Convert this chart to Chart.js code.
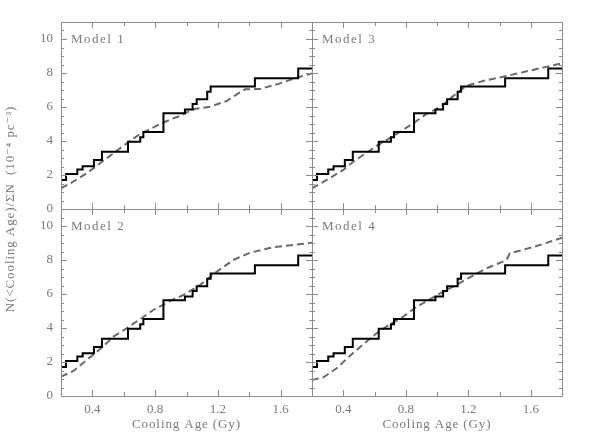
<!DOCTYPE html>
<html>
<head>
<meta charset="utf-8">
<script src="https://cdn.jsdelivr.net/npm/chart.js@4.4.0/dist/chart.umd.min.js"></script>
<style>
  html, body { margin: 0; padding: 0; background: #fff; }
  #wrap { position: relative; width: 598px; height: 447px; }
  .panel { position: absolute; left: 0; top: 0; width: 598px; height: 447px; }
</style>
</head>
<body>
<div id="wrap">
  <div class="panel"><canvas id="p1"></canvas></div>
  <div class="panel"><canvas id="p2"></canvas></div>
  <div class="panel"><canvas id="p3"></canvas></div>
  <div class="panel"><canvas id="p4"></canvas></div>
</div>
<script>
// observed cumulative distribution (same in every panel)
var ageObs = [0.2, 0.232, 0.304, 0.338, 0.41, 0.461, 0.627, 0.705, 0.725, 0.853, 0.99, 1.039, 1.065, 1.132, 1.154, 1.436, 1.712, 1.8];
var cumObs = [1.71, 2.06, 2.33, 2.51, 2.88, 3.37, 3.96, 4.22, 4.53, 5.63, 5.86, 6.18, 6.45, 6.9, 7.2, 7.69, 8.27, 8.27];

// model curves
var ageModel1 = [0.2, 0.278, 0.364, 0.449, 0.533, 0.619, 0.703, 0.778, 0.831, 0.916, 0.958, 1.011, 1.05, 1.15, 1.256, 1.33, 1.373, 1.468, 1.596, 1.712, 1.8];
var cumModel1 = [1.22, 1.61, 2.1, 2.69, 3.27, 3.86, 4.41, 4.75, 5.0, 5.33, 5.47, 5.73, 5.88, 6.02, 6.35, 6.8, 7.04, 7.06, 7.39, 7.75, 7.98];

var ageModel2 = [0.2, 0.279, 0.364, 0.449, 0.534, 0.618, 0.703, 0.788, 0.895, 0.98, 1.086, 1.192, 1.298, 1.405, 1.553, 1.68, 1.8];
var cumModel2 = [1.14, 1.47, 2.12, 2.76, 3.49, 3.98, 4.51, 5.06, 5.59, 5.94, 6.53, 7.31, 8.0, 8.43, 8.75, 8.88, 9.02];

var ageModel3 = [0.2, 0.294, 0.4, 0.464, 0.613, 0.72, 0.848, 0.933, 1.018, 1.104, 1.189, 1.295, 1.444, 1.594, 1.722, 1.8];
var cumModel3 = [1.22, 1.71, 2.3, 2.78, 3.71, 4.29, 5.04, 5.59, 5.98, 6.65, 7.25, 7.53, 7.82, 8.14, 8.41, 8.57];

var ageModel4 = [0.2, 0.273, 0.358, 0.443, 0.528, 0.613, 0.699, 0.784, 0.869, 0.954, 1.04, 1.125, 1.178, 1.317, 1.445, 1.466, 1.55, 1.637, 1.8];
var cumModel4 = [0.94, 1.1, 1.63, 2.37, 3.04, 3.69, 4.22, 4.67, 5.24, 5.69, 6.14, 6.53, 6.82, 7.51, 8.0, 8.39, 8.6, 8.82, 9.31];

// axes
var ageTicks = [0.2, 0.4, 0.6, 0.8, 1.0, 1.2, 1.4, 1.6, 1.8];
var ageLabels = [0.4, 0.8, 1.2, 1.6];
var cumTicks = [0, 0.5, 1, 1.5, 2, 2.5, 3, 3.5, 4, 4.5, 5, 5.5, 6, 6.5, 7, 7.5, 8, 8.5, 9, 9.5, 10, 10.5, 11];
var cumLabels = [0, 2, 4, 6, 8, 10];

var INK = '#7a7a7a';
var FONT = '"Liberation Serif", "DejaVu Serif", serif';

function toPoints(xs, ys) {
    var pts = [];
    for (var i = 0; i < xs.length; i++) {
        pts.push({ x: xs[i], y: ys[i] });
    }
    return pts;
}

function inList(list, v) {
    for (var i = 0; i < list.length; i++) {
        if (Math.abs(list[i] - v) < 1e-6) return true;
    }
    return false;
}

// frame, inward ticks and panel texts
var framePlugin = {
    id: 'frame',
    afterDraw: function (chart, args, opts) {
        var ctx = chart.ctx;
        var a = chart.chartArea;
        var xs = chart.scales.x, ys = chart.scales.y;
        ctx.save();
        ctx.strokeStyle = '#8c8c8c';
        ctx.lineWidth = 1;
        ctx.strokeRect(Math.round(a.left) + 0.5, Math.round(a.top) + 0.5, Math.round(a.right - a.left), Math.round(a.bottom - a.top));
        ctx.beginPath();
        xs.ticks.forEach(function (t) {
            var px = Math.round(xs.getPixelForValue(t.value)) + 0.5;
            var len = inList(ageLabels, t.value) ? 6 : 4;
            ctx.moveTo(px, a.bottom); ctx.lineTo(px, a.bottom - len);
            ctx.moveTo(px, a.top); ctx.lineTo(px, a.top + len);
        });
        ys.ticks.forEach(function (t) {
            var py = Math.round(ys.getPixelForValue(t.value)) + 0.5;
            var len = inList(cumLabels, t.value) ? 6 : 3;
            ctx.moveTo(a.left, py); ctx.lineTo(a.left + len, py);
            ctx.moveTo(a.right, py); ctx.lineTo(a.right - len, py);
        });
        ctx.stroke();

        ctx.fillStyle = INK;
        ctx.font = '13px ' + FONT;
        ctx.letterSpacing = '1.5px';
        ctx.textAlign = 'left';
        ctx.textBaseline = 'alphabetic';
        ctx.fillText(opts.label, a.left + 10, a.top + 21);

        ctx.letterSpacing = '0.9px';
        if (opts.xTitle) {
            ctx.textAlign = 'center';
            ctx.textBaseline = 'middle';
            ctx.fillText('Cooling Age (Gy)', (a.left + a.right) / 2, a.bottom + 29);
        }
        if (opts.yTitle) {
            ctx.translate(11, a.bottom);
            ctx.rotate(-Math.PI / 2);
            ctx.textAlign = 'center';
            ctx.textBaseline = 'middle';
            ctx.fillText('N(<Cooling Age)/\u03A3N  (10\u207B\u2074 pc\u207B\u00B3)', 0, 0);
        }
        ctx.restore();
    }
};

// box = [left, top, right, bottom] of the plot area inside the 598x447 page
function makePanel(id, label, ages, cums, box, showX, showY) {
    var ctx = document.getElementById(id);
    var yw = showY ? box[0] : 0;
    var xh = showX ? 30 : 0;
    return new Chart(ctx, {
        type: 'line',
        data: {
            datasets: [
                {
                    data: toPoints(ageObs, cumObs),
                    borderColor: '#000',
                    borderWidth: 2,
                    stepped: 'before',
                    pointRadius: 0,
                    fill: false
                },
                {
                    data: toPoints(ages, cums),
                    borderColor: '#6a6a6a',
                    borderWidth: 2,
                    borderDash: [7, 4],
                    pointRadius: 0,
                    tension: 0,
                    fill: false
                }
            ]
        },
        options: {
            responsive: true,
            maintainAspectRatio: false,
            animation: false,
            layout: {
                padding: { left: box[0] - yw, top: box[1], right: 598 - box[2], bottom: 447 - box[3] - xh }
            },
            plugins: {
                legend: { display: false },
                tooltip: { enabled: false },
                frame: { label: label, xTitle: showX, yTitle: showY && id === 'p1' }
            },
            scales: {
                x: {
                    type: 'linear',
                    min: 0.2,
                    max: 1.8,
                    grid: { display: false, drawTicks: false },
                    border: { display: false },
                    afterBuildTicks: function (s) {
                        s.ticks = ageTicks.map(function (v) { return { value: v }; });
                    },
                    afterFit: function (s) { s.height = xh; },
                    ticks: {
                        display: showX,
                        autoSkip: false,
                        maxRotation: 0,
                        padding: 6,
                        color: INK,
                        font: { family: FONT, size: 13 },
                        callback: function (v) { return inList(ageLabels, v) ? v.toFixed(1) : ''; }
                    }
                },
                y: {
                    type: 'linear',
                    min: 0,
                    max: 11,
                    grid: { display: false, drawTicks: false },
                    border: { display: false },
                    afterBuildTicks: function (s) {
                        s.ticks = cumTicks.map(function (v) { return { value: v }; });
                    },
                    afterFit: function (s) { s.width = yw; },
                    ticks: {
                        display: showY,
                        autoSkip: false,
                        padding: 8,
                        color: INK,
                        font: { family: FONT, size: 13 },
                        callback: function (v) { return inList(cumLabels, v) ? String(v) : ''; }
                    }
                }
            }
        },
        plugins: [framePlugin]
    });
}

makePanel('p1', 'Model 1', ageModel1, cumModel1, [61, 22, 312, 209], false, true);
makePanel('p2', 'Model 3', ageModel3, cumModel3, [312, 22, 562, 209], false, false);
makePanel('p3', 'Model 2', ageModel2, cumModel2, [61, 209, 312, 396], true, true);
makePanel('p4', 'Model 4', ageModel4, cumModel4, [312, 209, 562, 396], true, false);
</script>
</body>
</html>
